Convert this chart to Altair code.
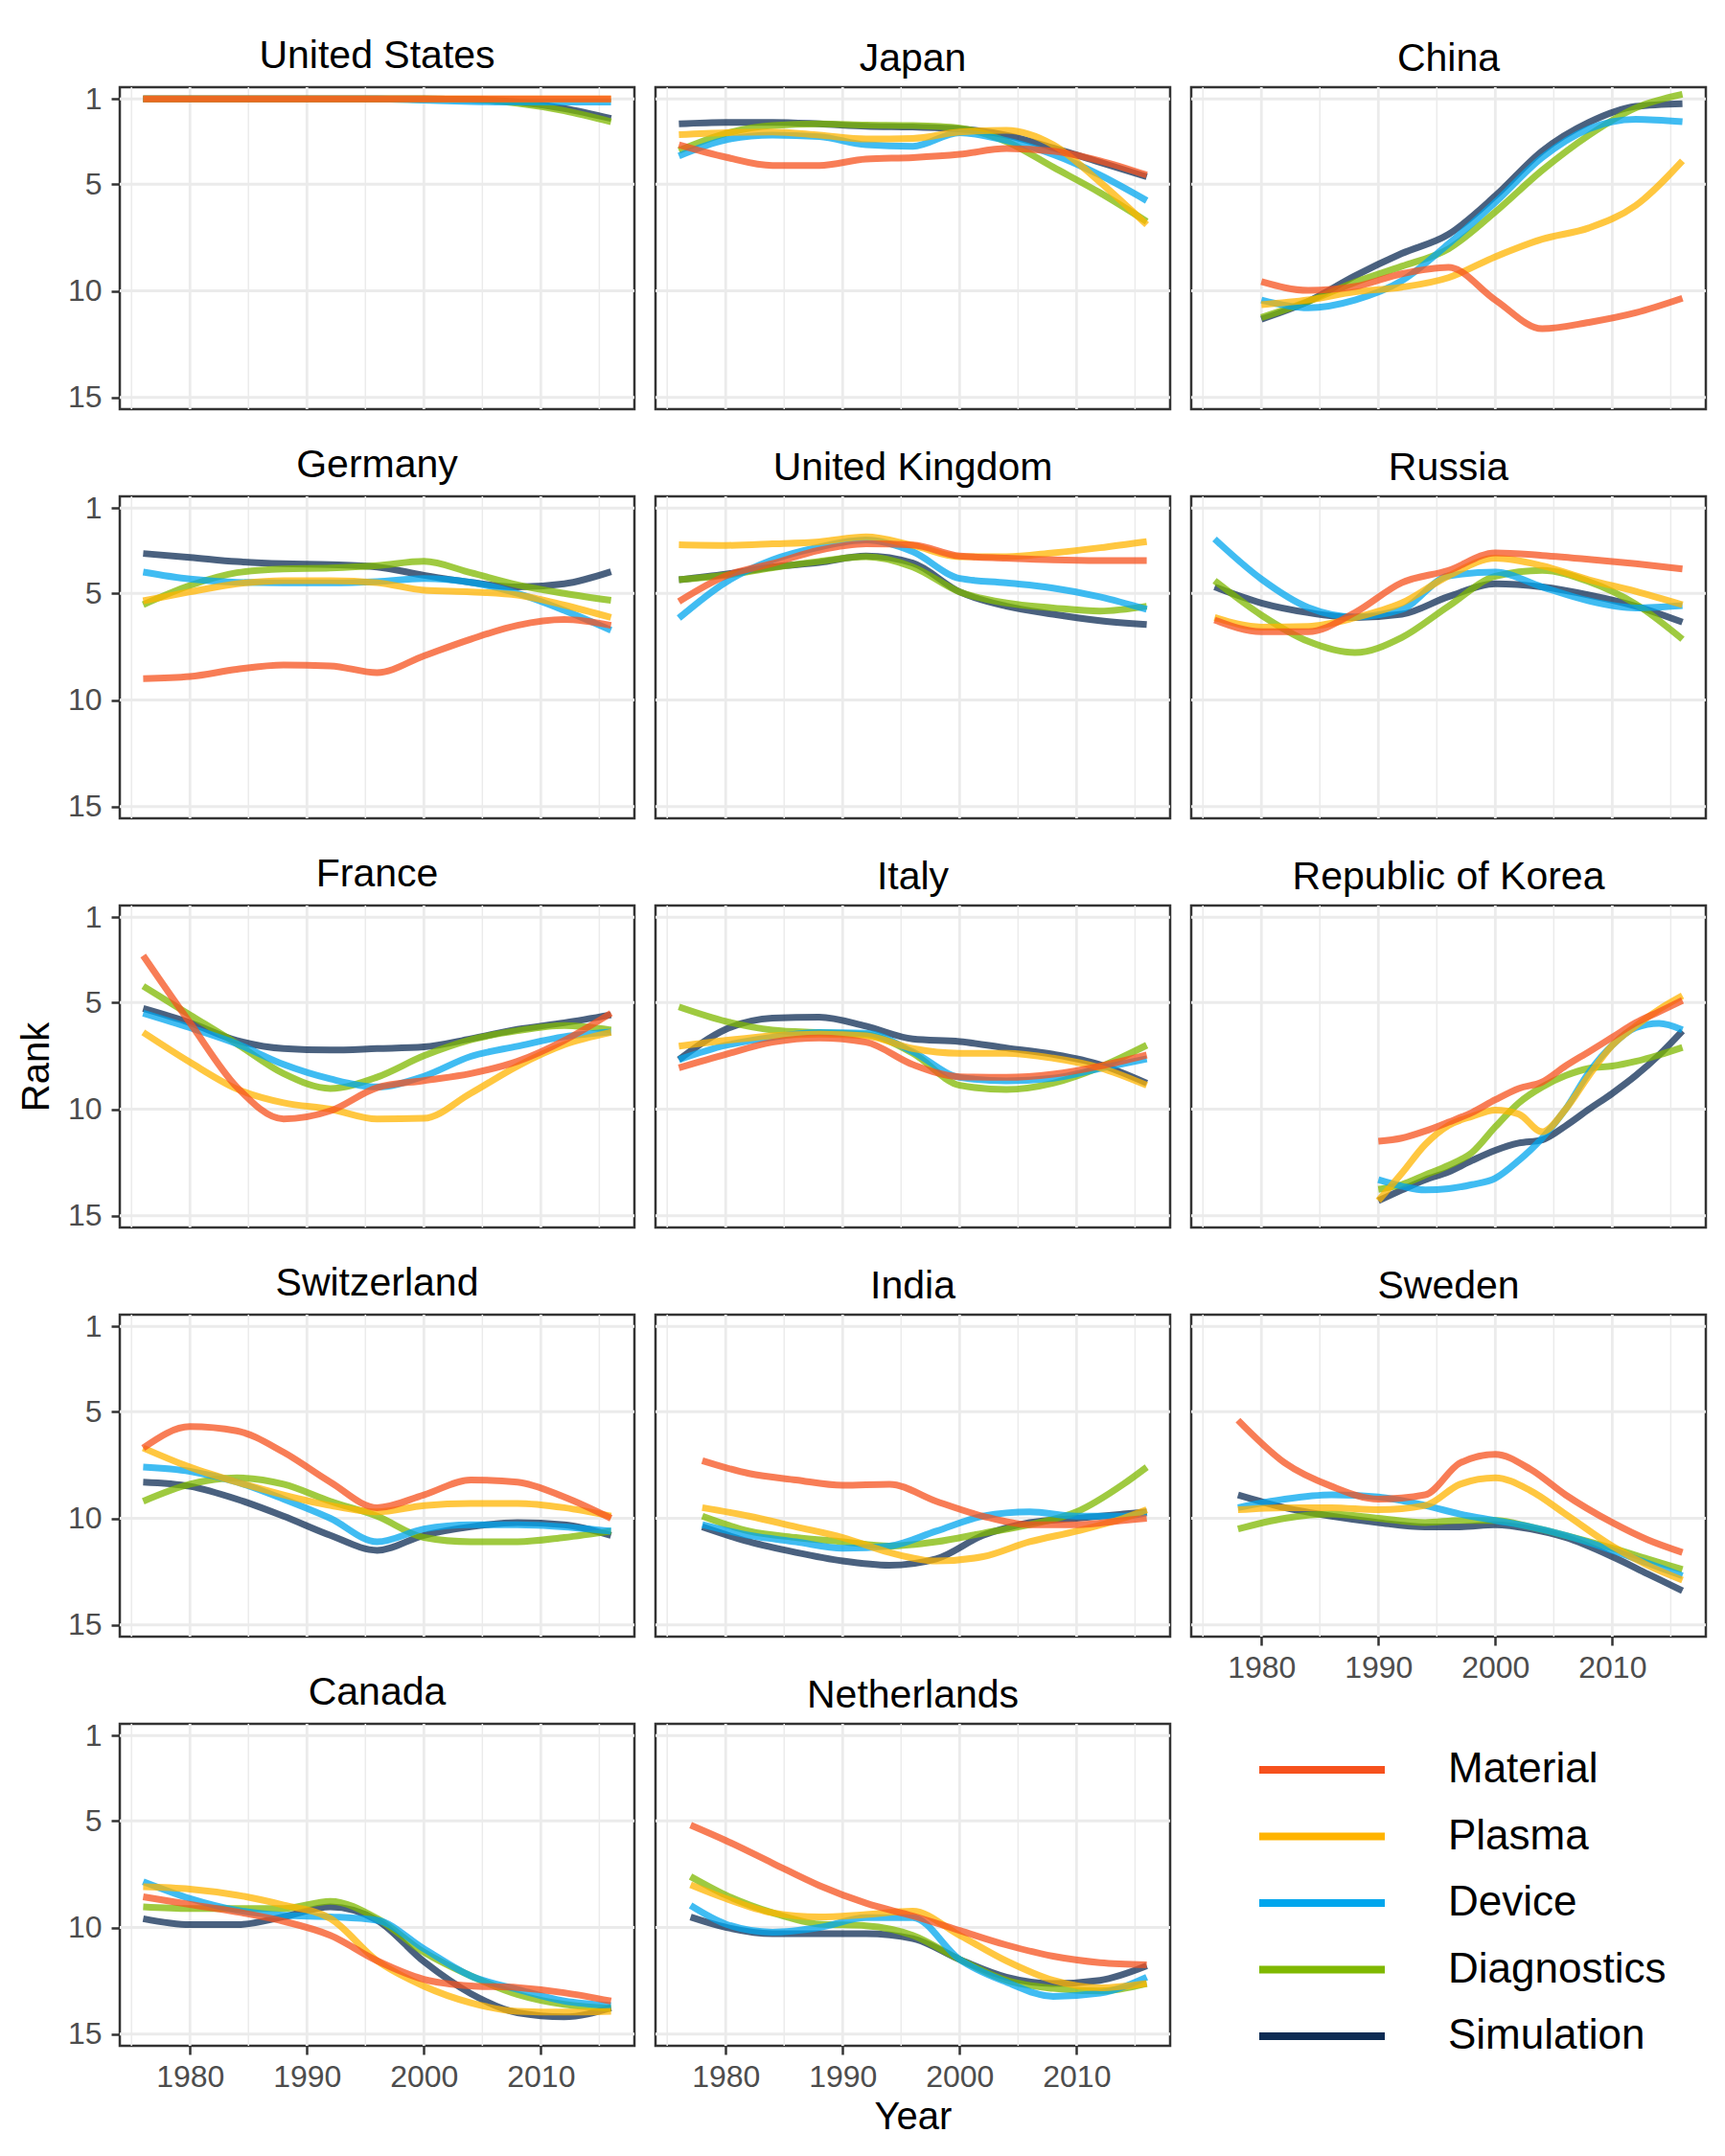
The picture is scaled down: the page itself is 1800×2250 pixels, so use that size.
import altair as alt
import pandas as pd

FONT = "Liberation Sans"
CATEGORIES = ["Material", "Plasma", "Device", "Diagnostics", "Simulation"]
COLORS = ["#F6511D", "#FFB400", "#00A6ED", "#7FB800", "#0D2C54"]

GRID_76 = [1976, 1980, 1984, 1988, 1992, 1996, 2000, 2004, 2008, 2012, 2016]

united_states = {
    "years": GRID_76,
    "Material": [1, 1, 1, 1, 1, 1, 1, 1, 1, 1, 1],
    "Plasma": [1, 1, 1, 1, 1, 1, 1, 1, 1, 1, 1],
    "Device": [1, 1, 1, 1, 1, 1, 1.06, 1.12, 1.15, 1.15, 1.15],
    "Diagnostics": [1, 1, 1, 1, 1, 1, 1, 1.02, 1.2, 1.55, 2.07],
    "Simulation": [1, 1, 1, 1, 1, 1, 1, 1.02, 1.15, 1.45, 1.92],
}
japan = {
    "years": GRID_76,
    "Material": [3.15, 3.73, 4.12, 4.12, 3.82, 3.75, 3.6, 3.33, 3.45, 3.9, 4.57],
    "Plasma": [2.67, 2.58, 2.55, 2.7, 2.88, 2.85, 2.55, 2.47, 3.15, 4.9, 6.9],
    "Device": [3.67, 2.92, 2.7, 2.77, 3.15, 3.22, 2.58, 2.95, 3.6, 4.57, 5.77],
    "Diagnostics": [3.42, 2.62, 2.25, 2.17, 2.22, 2.25, 2.37, 3.0, 4.2, 5.4, 6.75],
    "Simulation": [2.17, 2.10, 2.10, 2.17, 2.28, 2.32, 2.40, 2.70, 3.30, 3.97, 4.65],
}
china = {
    "years": [1980, 1984, 1988, 1992, 1996, 2000, 2004, 2008, 2012, 2016],
    "Material": [9.57, 9.98, 9.8, 9.2, 8.9, 10.43, 11.78, 11.48, 11.03, 10.35],
    "Plasma": [10.65, 10.43, 10.05, 9.83, 9.38, 8.4, 7.58, 7.05, 6.0, 3.9],
    "Device": [10.43, 10.8, 10.43, 9.53, 7.8, 5.85, 3.75, 2.4, 1.95, 2.07],
    "Diagnostics": [11.25, 10.5, 9.6, 8.85, 8.03, 6.3, 4.35, 2.7, 1.42, 0.78],
    "Simulation": [11.33, 10.5, 9.3, 8.25, 7.35, 5.55, 3.45, 2.1, 1.35, 1.22],
}
germany = {
    "years": GRID_76,
    "Material": [9.0, 8.9, 8.56, 8.36, 8.4, 8.72, 7.93, 7.15, 6.5, 6.23, 6.5],
    "Plasma": [5.35, 4.93, 4.55, 4.4, 4.4, 4.5, 4.85, 4.93, 5.08, 5.55, 6.13],
    "Device": [4.0, 4.33, 4.48, 4.51, 4.51, 4.45, 4.3, 4.48, 5.0, 5.8, 6.73],
    "Diagnostics": [5.53, 4.63, 4.03, 3.85, 3.81, 3.7, 3.5, 4.03, 4.6, 5.0, 5.33],
    "Simulation": [3.13, 3.31, 3.51, 3.61, 3.65, 3.76, 4.15, 4.48, 4.7, 4.55, 3.98],
}
united_kingdom = {
    "years": GRID_76,
    "Material": [5.38, 4.18, 3.6, 2.98, 2.68, 2.73, 3.25, 3.35, 3.43, 3.46, 3.46],
    "Plasma": [2.72, 2.75, 2.68, 2.58, 2.35, 2.75, 3.28, 3.28, 3.1, 2.86, 2.57],
    "Device": [6.16, 4.48, 3.43, 2.83, 2.5, 3.05, 4.3, 4.51, 4.75, 5.16, 5.75],
    "Diagnostics": [4.36, 4.15, 3.8, 3.5, 3.28, 3.76, 4.93, 5.45, 5.68, 5.83, 5.6],
    "Simulation": [4.36, 4.1, 3.76, 3.55, 3.25, 3.58, 4.93, 5.6, 5.98, 6.28, 6.46],
}
russia = {
    "years": GRID_76,
    "Material": [6.25, 6.8, 6.8, 5.9, 4.5, 3.92, 3.1, 3.22, 3.4, 3.61, 3.85],
    "Plasma": [6.13, 6.58, 6.55, 6.14, 5.45, 4.18, 3.35, 3.7, 4.36, 4.9, 5.53],
    "Device": [2.45, 4.33, 5.66, 6.1, 5.75, 4.18, 4.0, 4.7, 5.35, 5.68, 5.57],
    "Diagnostics": [4.4, 6.02, 7.25, 7.78, 7.07, 5.6, 4.2, 3.92, 4.45, 5.5, 7.15],
    "Simulation": [4.7, 5.45, 5.9, 6.13, 5.98, 5.15, 4.55, 4.7, 5.08, 5.6, 6.35],
}
france = {
    "years": GRID_76,
    "Material": [2.8, 5.95, 8.96, 10.46, 10.08, 8.99, 8.66, 8.33, 7.76, 6.78, 5.5],
    "Plasma": [6.4, 7.8, 9.05, 9.7, 10.0, 10.46, 10.43, 9.26, 7.98, 6.98, 6.4],
    "Device": [5.5, 6.18, 6.93, 7.9, 8.58, 8.96, 8.46, 7.53, 7.05, 6.6, 6.38],
    "Diagnostics": [4.23, 5.58, 6.93, 8.33, 9.03, 8.5, 7.5, 6.75, 6.32, 6.08, 6.29],
    "Simulation": [5.28, 5.95, 6.78, 7.16, 7.23, 7.16, 7.08, 6.7, 6.26, 5.95, 5.58],
}
italy = {
    "years": GRID_76,
    "Material": [8.06, 7.43, 6.86, 6.66, 6.86, 7.91, 8.48, 8.51, 8.36, 7.98, 7.46],
    "Plasma": [7.05, 6.78, 6.56, 6.48, 6.56, 7.16, 7.38, 7.38, 7.61, 8.06, 8.88],
    "Device": [7.68, 7.01, 6.63, 6.41, 6.44, 7.31, 8.51, 8.67, 8.55, 8.09, 7.64],
    "Diagnostics": [5.2, 5.88, 6.29, 6.41, 6.51, 7.38, 8.88, 9.08, 8.78, 8.03, 7.0],
    "Simulation": [7.68, 6.26, 5.73, 5.68, 6.11, 6.71, 6.83, 7.13, 7.43, 7.91, 8.78],
}
korea = {
    "years": [1990, 1992, 1994, 1996, 1998, 2000, 2002, 2004, 2006, 2008, 2010, 2012, 2014, 2016],
    "Material": [11.51, 11.36, 11.03, 10.61, 10.16, 9.56, 9.03, 8.73, 7.98, 7.31, 6.63, 5.95, 5.43, 4.9],
    "Plasma": [14.29, 13.01, 11.66, 10.76, 10.34, 10.04, 10.23, 11.06, 10.01, 8.43, 7.01, 6.1, 5.32, 4.68],
    "Device": [13.31, 13.61, 13.79, 13.73, 13.54, 13.24, 12.41, 11.36, 10.01, 8.28, 7.0, 6.18, 5.98, 6.28],
    "Diagnostics": [13.76, 13.54, 13.09, 12.64, 12.04, 10.83, 9.71, 8.96, 8.43, 8.09, 7.98, 7.76, 7.46, 7.11],
    "Simulation": [14.29, 13.79, 13.31, 12.94, 12.41, 11.93, 11.59, 11.44, 10.79, 10.01, 9.26, 8.43, 7.46, 6.33],
}
switzerland = {
    "years": GRID_76,
    "Material": [6.7, 5.7, 5.9, 6.9, 8.3, 9.5, 8.9, 8.2, 8.3, 9.0, 10.0],
    "Plasma": [6.7, 7.6, 8.3, 8.9, 9.4, 9.7, 9.4, 9.3, 9.3, 9.5, 9.9],
    "Device": [7.6, 7.8, 8.3, 9.1, 10.0, 11.1, 10.5, 10.3, 10.3, 10.4, 10.6],
    "Diagnostics": [9.2, 8.4, 8.1, 8.4, 9.2, 9.9, 10.9, 11.1, 11.1, 10.9, 10.6],
    "Simulation": [8.3, 8.5, 9.1, 9.9, 10.8, 11.5, 10.8, 10.4, 10.2, 10.3, 10.8],
}
india = {
    "years": [1978, 1982, 1986, 1990, 1994, 1998, 2002, 2006, 2010, 2014, 2016],
    "Material": [7.3, 7.9, 8.2, 8.45, 8.4, 9.2, 9.9, 10.3, 10.3, 10.1, 10.0],
    "Plasma": [9.5, 9.9, 10.4, 10.9, 11.6, 12.0, 11.8, 11.1, 10.6, 10.0, 9.6],
    "Device": [10.3, 10.8, 11.1, 11.4, 11.3, 10.6, 9.9, 9.7, 9.9, 9.9, 9.75],
    "Diagnostics": [9.9, 10.6, 10.9, 11.1, 11.3, 11.1, 10.7, 10.3, 9.7, 8.4, 7.6],
    "Simulation": [10.4, 11.1, 11.6, 12.0, 12.2, 11.9, 10.8, 10.2, 10.0, 9.8, 9.7],
}
sweden = {
    "years": [1978, 1982, 1986, 1990, 1994, 1997, 2000, 2003, 2006, 2010, 2013, 2016],
    "Material": [5.4, 7.4, 8.5, 9.1, 8.9, 7.4, 7.0, 7.7, 8.9, 10.2, 11.0, 11.6],
    "Plasma": [9.6, 9.5, 9.5, 9.6, 9.4, 8.4, 8.1, 8.7, 9.8, 11.3, 12.2, 12.9],
    "Device": [9.5, 9.1, 8.9, 9.0, 9.4, 9.8, 10.1, 10.4, 10.8, 11.5, 12.1, 12.7],
    "Diagnostics": [10.5, 10.0, 9.8, 10.0, 10.2, 10.1, 10.1, 10.4, 10.8, 11.4, 11.9, 12.4],
    "Simulation": [8.9, 9.5, 9.9, 10.2, 10.4, 10.4, 10.3, 10.5, 10.9, 11.8, 12.6, 13.4],
}
canada = {
    "years": GRID_76,
    "Material": [8.56, 8.92, 9.27, 9.71, 10.37, 11.56, 12.43, 12.74, 12.82, 13.06, 13.45],
    "Plasma": [8.09, 8.2, 8.48, 8.95, 9.58, 11.56, 12.75, 13.53, 13.93, 13.97, 13.93],
    "Device": [7.85, 8.64, 9.19, 9.43, 9.5, 9.66, 11.0, 12.27, 12.9, 13.45, 13.66],
    "Diagnostics": [9.03, 9.11, 9.11, 9.11, 8.77, 9.58, 11.16, 12.27, 13.14, 13.61, 13.8],
    "Simulation": [9.59, 9.87, 9.87, 9.5, 9.03, 9.66, 11.6, 13.1, 14.0, 14.19, 13.77],
}
netherlands = {
    "years": [1977, 1980, 1984, 1988, 1992, 1996, 2000, 2004, 2008, 2012, 2016],
    "Material": [5.2, 5.92, 6.98, 8.03, 8.86, 9.46, 10.14, 10.82, 11.35, 11.65, 11.75],
    "Plasma": [8.0, 8.64, 9.31, 9.51, 9.39, 9.24, 10.37, 11.57, 12.48, 12.83, 12.63],
    "Device": [8.97, 9.84, 10.22, 10.0, 9.54, 9.54, 11.5, 12.56, 13.23, 13.08, 12.33],
    "Diagnostics": [7.61, 8.48, 9.31, 9.84, 9.92, 10.37, 11.5, 12.48, 12.86, 12.98, 12.63],
    "Simulation": [9.51, 9.99, 10.29, 10.29, 10.29, 10.52, 11.5, 12.33, 12.63, 12.48, 11.8],
}

PANELS = [
    ("United States", united_states), ("Japan", japan), ("China", china),
    ("Germany", germany), ("United Kingdom", united_kingdom), ("Russia", russia),
    ("France", france), ("Italy", italy), ("Republic of Korea", korea),
    ("Switzerland", switzerland), ("India", india), ("Sweden", sweden),
    ("Canada", canada), ("Netherlands", netherlands),
]
BOTTOM_PANELS = ["Sweden", "Canada", "Netherlands"]

X_DOMAIN = [1974, 2018]
Y_DOMAIN = [0.45, 15.55]
X_MAJOR = [1980, 1990, 2000, 2010]
X_MINOR = [1975, 1985, 1995, 2005, 2015]
Y_BREAKS = [1, 5, 10, 15]

W, H = 537, 336
GRID_COLOR = "#EBEBEB"
DARK = "#333333"
LABEL = "#4D4D4D"


def long_frame(obj):
    rows = []
    for cat in CATEGORIES:
        for yr, v in zip(obj["years"], obj[cat]):
            rows.append({"Year": yr, "Rank": v, "Category": cat})
    return pd.DataFrame(rows)


def make_panel(name, obj, show_x=False, show_y=False, rank_visible=False, x_title=False):
    xs = alt.Scale(domain=X_DOMAIN, nice=False, zero=False)
    ys = alt.Scale(domain=Y_DOMAIN, nice=False, zero=False, reverse=True)
    df = long_frame(obj)

    if show_x:
        x_axis = alt.Axis(values=X_MAJOR, format="d", grid=False, domain=False,
                          tickSize=9, tickWidth=2.5, tickColor=DARK,
                          labelFontSize=32, labelColor=LABEL, labelFont=FONT, labelPadding=8,
                          title="Year" if x_title else None,
                          titleFontSize=40, titleFont=FONT, titleColor="black",
                          titleFontWeight="normal", titlePadding=6)
    else:
        x_axis = None
    if show_y:
        y_axis = alt.Axis(values=Y_BREAKS, grid=False, domain=False,
                          tickSize=9, tickWidth=2.5, tickColor=DARK,
                          labelFontSize=32, labelColor=LABEL, labelFont=FONT, labelPadding=10,
                          title="Rank", titleFontSize=40, titleFont=FONT, titleColor="black",
                          titleFontWeight="normal", titlePadding=12,
                          titleOpacity=1 if rank_visible else 0)
    else:
        y_axis = None

    minor = alt.Chart(pd.DataFrame({"Year": X_MINOR})).mark_rule(
        color=GRID_COLOR, strokeWidth=1.5).encode(x=alt.X("Year:Q", scale=xs, axis=x_axis))
    major_x = alt.Chart(pd.DataFrame({"Year": X_MAJOR})).mark_rule(
        color=GRID_COLOR, strokeWidth=2.8).encode(x=alt.X("Year:Q", scale=xs, axis=x_axis))
    major_y = alt.Chart(pd.DataFrame({"Rank": Y_BREAKS})).mark_rule(
        color=GRID_COLOR, strokeWidth=2.8).encode(y=alt.Y("Rank:Q", scale=ys, axis=y_axis))

    layers = [minor, major_x, major_y]
    for cat, col in reversed(list(zip(CATEGORIES, COLORS))):
        layers.append(
            alt.Chart(df[df["Category"] == cat]).mark_line(
                interpolate="monotone", strokeWidth=7, opacity=0.75, clip=True, color=col
            ).encode(
                x=alt.X("Year:Q", scale=xs, axis=x_axis),
                y=alt.Y("Rank:Q", scale=ys, axis=y_axis),
            )
        )
    return alt.layer(*layers).properties(
        width=W, height=H,
        title=alt.TitleParams(name, fontSize=41, font=FONT, color="black", fontWeight="normal",
                              anchor="middle", frame="group", baseline="alphabetic",
                              offset=20, dy=45),
    )


def make_legend():
    leg = pd.DataFrame({"Category": CATEGORIES})
    ly = alt.Y("Category:N", sort=CATEGORIES,
               scale=alt.Scale(type="point", domain=CATEGORIES, range=[48, 326], padding=0),
               axis=None)
    rules = alt.Chart(leg).mark_rule(strokeWidth=8).encode(
        x=alt.value(71), x2=alt.value(202), y=ly,
        color=alt.Color("Category:N", scale=alt.Scale(domain=CATEGORIES, range=COLORS), legend=None),
    )
    texts = alt.Chart(leg).mark_text(align="left", baseline="middle", fontSize=44, font=FONT,
                                      color="black").encode(x=alt.value(268), y=ly, text="Category:N")
    return alt.layer(rules, texts).properties(
        width=W, height=H, view=alt.ViewConfig(strokeOpacity=0, strokeWidth=0))


cells = []
for i, (name, obj) in enumerate(PANELS):
    cells.append(make_panel(
        name, obj,
        show_x=name in BOTTOM_PANELS,
        show_y=(i % 3 == 0),
        rank_visible=(name == "France"),
        x_title=(name == "Netherlands"),
    ))
cells.append(make_legend())

chart = alt.concat(*cells, columns=3, bounds="flush",
                   spacing={"row": 91, "column": 22}).resolve_scale(
    x="independent", y="independent", color="independent"
).configure(
    background="white", padding={"left": 17, "top": 36, "right": 5, "bottom": 5}, font=FONT
).configure_view(stroke=DARK, strokeWidth=2.5)

chart.save("out.html", embed_options={"renderer": "svg", "actions": False})
